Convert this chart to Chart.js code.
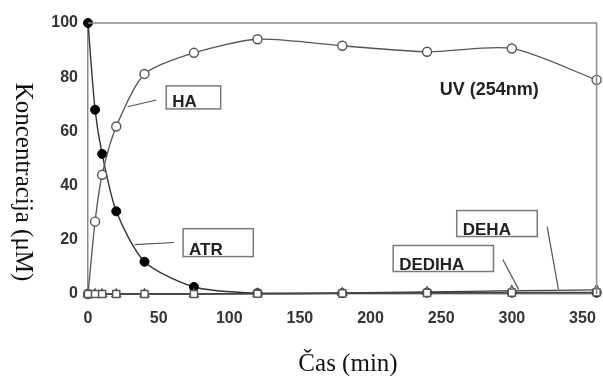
<!DOCTYPE html>
<html><head><meta charset="utf-8">
<script src="https://cdn.jsdelivr.net/npm/chart.js@4.4.1/dist/chart.umd.min.js"></script>
<style>html,body{margin:0;padding:0;background:#fff}#wrap{width:603px;height:376px}</style>
</head><body><div id="wrap"><canvas id="c" width="603" height="376"></canvas></div>
<script>
const times = [0, 5, 10, 20, 40, 75, 120, 180, 240, 300, 360];
const atr = [100, 68, 51.7, 30.5, 11.9, 2.6, 0.3, 0.3, 0.5, 0.5, 0.5];
const ha = [0, 26.7, 44, 61.8, 81.2, 89, 94, 91.6, 89.4, 90.6, 79];
const deha = [0, 0, 0, 0, 0, 0, 0.2, 0.4, 0.8, 1.2, 1.5];
const dediha = [0, 0, 0, 0, 0, 0, 0.1, 0.2, 0.4, 0.5, 0.6];
const yTicks = [0, 20, 40, 60, 80, 100];
const xTicks = [0, 50, 100, 150, 200, 250, 300, 350];
const xTitle = "Čas (min)";
const yTitle = "Koncentracija (μM)";
const condition = "UV (254nm)";
// label boxes in data units: [text, x0, y0(top), x1, y1(bottom), leaderFrom[x,y], leaderTo[x,y]]
const boxes = [
  ["HA", 55.4, 76.8, 93.9, 68.3, [48.4, 71.6], [28, 69.1]],
  ["ATR", 67.3, 24.1, 117, 13.8, [61, 19], [33, 18.2]],
  ["DEHA", 261, 30.8, 318, 21.2, [325, 24.9], [333, 1.7]],
  ["DEDIHA", 216, 17.9, 287, 8.3, [293.6, 12.7], [304.8, 1.7]]
];
const conditionPos = [249, 75.3];

function pts(ys){ return times.map((t,i)=>({x:t,y:ys[i]})); }

const extras = {
  id: 'extras',
  afterDatasetsDraw(chart){
    const ctx = chart.ctx, xs = chart.scales.x, ys = chart.scales.y, a = chart.chartArea;
    ctx.save();
    ctx.strokeStyle = '#8a8a8a'; ctx.lineWidth = 1.5;
    ctx.beginPath(); ctx.moveTo(a.left, a.top); ctx.lineTo(a.right, a.top); ctx.lineTo(a.right, a.bottom); ctx.stroke();
    boxes.forEach(b=>{
      const x0 = xs.getPixelForValue(b[1]), y0 = ys.getPixelForValue(b[2]);
      const x1 = xs.getPixelForValue(b[3]), y1 = ys.getPixelForValue(b[4]);
      ctx.fillStyle = '#fff'; ctx.fillRect(x0, y0, x1-x0, y1-y0);
      ctx.strokeStyle = '#7a7a7a'; ctx.lineWidth = 1.5;
      ctx.strokeRect(x0, y0, x1-x0, y1-y0);
      ctx.fillStyle = '#222'; ctx.font = 'bold 17px "Liberation Sans", Arial, sans-serif';
      ctx.textAlign = 'left'; ctx.textBaseline = 'alphabetic';
      ctx.fillText(b[0], x0 + 6, y1 - 2);
      ctx.strokeStyle = '#555'; ctx.lineWidth = 1.2;
      ctx.beginPath();
      ctx.moveTo(xs.getPixelForValue(b[5][0]), ys.getPixelForValue(b[5][1]));
      ctx.lineTo(xs.getPixelForValue(b[6][0]), ys.getPixelForValue(b[6][1]));
      ctx.stroke();
    });
    ctx.fillStyle = '#222'; ctx.font = 'bold 18px "Liberation Sans", Arial, sans-serif';
    ctx.textAlign = 'left'; ctx.textBaseline = 'middle';
    ctx.fillText(condition, xs.getPixelForValue(conditionPos[0]), ys.getPixelForValue(conditionPos[1]));
    ctx.fillStyle = '#111'; ctx.font = '25px "Liberation Serif", "Times New Roman", serif';
    ctx.textAlign = 'center'; ctx.textBaseline = 'alphabetic';
    ctx.fillText(xTitle, 348, 371);
    ctx.translate(16, 182); ctx.rotate(Math.PI/2);
    ctx.fillText(yTitle, 0, 0);
    ctx.restore();
  }
};

const tickFont = {family: '"Liberation Sans", Arial, sans-serif', size: 16, weight: 'bold'};
const common = {showLine:true, borderWidth:1.3, clip:false, pointRadius:4.5, backgroundColor:'#fff', pointBorderColor:'#555', pointBorderWidth:1.4};
new Chart(document.getElementById('c'), {
  type: 'scatter',
  data: { datasets: [
    Object.assign({}, common, {label:'DEDIHA', data: pts(dediha), borderColor:'#444', tension:0.2, pointStyle:'rect', pointRadius:5}),
    Object.assign({}, common, {label:'DEHA', data: pts(deha), borderColor:'#444', tension:0.2, pointStyle:'triangle', pointRadius:5}),
    Object.assign({}, common, {label:'HA', data: pts(ha), borderColor:'#555', tension:0.25, pointStyle:'circle'}),
    Object.assign({}, common, {label:'ATR', data: pts(atr), borderColor:'#333', borderWidth:1.4, tension:0.25, pointStyle:'circle', backgroundColor:'#000', pointBorderColor:'#000', pointBorderWidth:1})
  ]},
  options: {
    responsive:false, animation:false, maintainAspectRatio:false,
    layout:{padding:{top:23, right:1, left:0, bottom:0}},
    plugins:{legend:{display:false}, tooltip:{enabled:false}},
    scales:{
      x:{type:'linear', min:0, max:360, afterBuildTicks(s){ s.ticks = xTicks.map(v=>({value:v})); },
         afterFit(s){ s.height = 82; s.paddingLeft = 0; s.paddingRight = 0; },
         grid:{display:false, drawTicks:false}, border:{display:true, color:'#8a8a8a', width:1.5},
         ticks:{font:tickFont, color:'#333', padding:15, maxRotation:0, autoSkip:false}},
      y:{type:'linear', min:0, max:100, afterBuildTicks(s){ s.ticks = yTicks.map(v=>({value:v})); },
         afterFit(s){ s.width = 88; s.paddingTop = 0; s.paddingBottom = 0; },
         grid:{display:false, drawTicks:false}, border:{display:true, color:'#8a8a8a', width:1.5},
         ticks:{font:tickFont, color:'#333', padding:10}}
    }
  },
  plugins:[extras]
});
</script></body></html>
